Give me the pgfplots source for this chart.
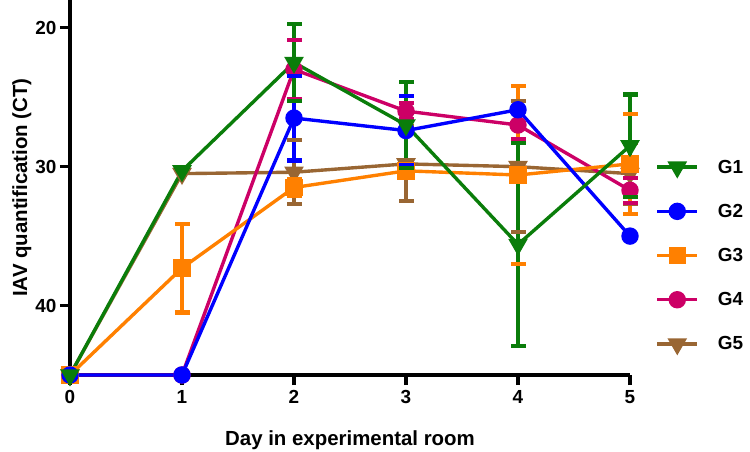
\documentclass[border=0pt]{standalone}
\usepackage{fontspec}
\setmainfont{Liberation Sans}
\usepackage{pgfplots}
\pgfplotsset{compat=1.18}

\definecolor{cG1}{RGB}{10,125,10}
\definecolor{cG2}{RGB}{0,0,255}
\definecolor{cG3}{RGB}{255,128,0}
\definecolor{cG4}{RGB}{204,0,102}
\definecolor{cG5}{RGB}{153,102,51}

% error bars: mean -/+ SD drawn as vertical segments with caps
\pgfplotsset{
  err/.style={forget plot, line width=4.2pt, line cap=butt, mark=-, mark size=7.5bp,
    mark options={solid, line width=4.2pt}, unbounded coords=jump},
  grp/.style={line width=3.4pt},
}

\begin{document}
\begin{tikzpicture}
\path[use as bounding box] (0,0) rectangle (750bp,452bp);
\begin{axis}[
    at={(70bp,77bp)}, anchor=south west,
    scale only axis, width=560bp, height=375bp,
    xmin=0, xmax=5, ymin=18, ymax=45,
    y dir=reverse,
    axis x line*=bottom, axis y line*=left,
    axis line style={line width=3.2pt, -},
    xtick={0,1,2,3,4,5}, ytick={20,30,40},
    tick align=outside, major tick length=10bp,
    tick style={line width=3.2pt, black},
    /pgf/number format/assume math mode=true,
    tick label style={font=\bfseries\fontsize{19}{19}\selectfont},
    xticklabel style={yshift=-2bp},
    xlabel={Day in experimental room},
    ylabel={IAV quantification (CT)},
    label style={font=\bfseries\fontsize{20.5}{20.5}\selectfont},
    xlabel style={at={(axis description cs:0.5,-0.173)}, anchor=center},
    ylabel style={at={(axis description cs:-0.086,0.5)}, anchor=center},
    clip=false,
    reverse legend,
    legend style={draw=none, fill=none, at={(1.04,0.585)}, anchor=north west,
        font=\bfseries\fontsize{19}{19}\selectfont, row sep=25.5bp, column sep=17bp},
    legend cell align=left,
    legend image code/.code={\draw[line width=3.4pt, mark repeat=2, mark phase=2] plot coordinates {(0bp,0bp) (20bp,0bp) (40bp,0bp)};},
]
% G5
\addplot[cG5, grp, mark=triangle*, mark size=8bp, mark options={rotate=180, solid}]
  coordinates {(0,45) (1,30.5) (2,30.4) (3,29.8) (4,30.0) (5,30.5)};
\addplot[cG5, err] coordinates {(2,28.1) (2,32.7) (2,nan) (3,27.1) (3,32.5) (3,nan)
  (4,25.3) (4,34.7) (4,nan) (5,28.3) (5,32.7)};
% G4
\addplot[cG4, grp, mark=*, mark size=7bp]
  coordinates {(0,45) (1,45) (2,23.0) (3,26.0) (4,27.0) (5,31.7)};
\addplot[cG4, err] coordinates {(2,20.9) (2,25.1) (2,nan) (3,25.4) (3,26.6) (3,nan)
  (4,26.0) (4,28.0) (4,nan) (5,30.8) (5,32.6)};
% G3
\addplot[cG3, grp, mark=square*, mark size=7bp]
  coordinates {(0,45) (1,37.3) (2,31.5) (3,30.3) (4,30.6) (5,29.8)};
\addplot[cG3, err] coordinates {(1,34.1) (1,40.5) (1,nan) (2,30.9) (2,32.1) (2,nan)
  (3,29.8) (3,30.8) (3,nan) (4,24.2) (4,37.0) (4,nan) (5,26.2) (5,33.4)};
% G2
\addplot[cG2, grp, mark=*, mark size=7bp]
  coordinates {(0,45) (1,45) (2,26.5) (3,27.4) (4,25.9) (5,35.0)};
\addplot[cG2, err] coordinates {(2,23.45) (2,29.55) (2,nan) (3,24.9) (3,29.9)};
% G1
\addplot[cG1, grp, mark=triangle*, mark size=8bp, mark options={rotate=180, solid}]
  coordinates {(0,45) (1,30.3) (2,22.5) (3,27.0) (4,35.6) (5,28.5)};
\addplot[cG1, err] coordinates {(2,19.7) (2,25.3) (2,nan) (3,23.9) (3,30.1) (3,nan)
  (4,28.3) (4,42.9) (4,nan) (5,24.8) (5,32.2)};
\legend{G5,G4,G3,G2,G1}
\end{axis}
\end{tikzpicture}
\end{document}
